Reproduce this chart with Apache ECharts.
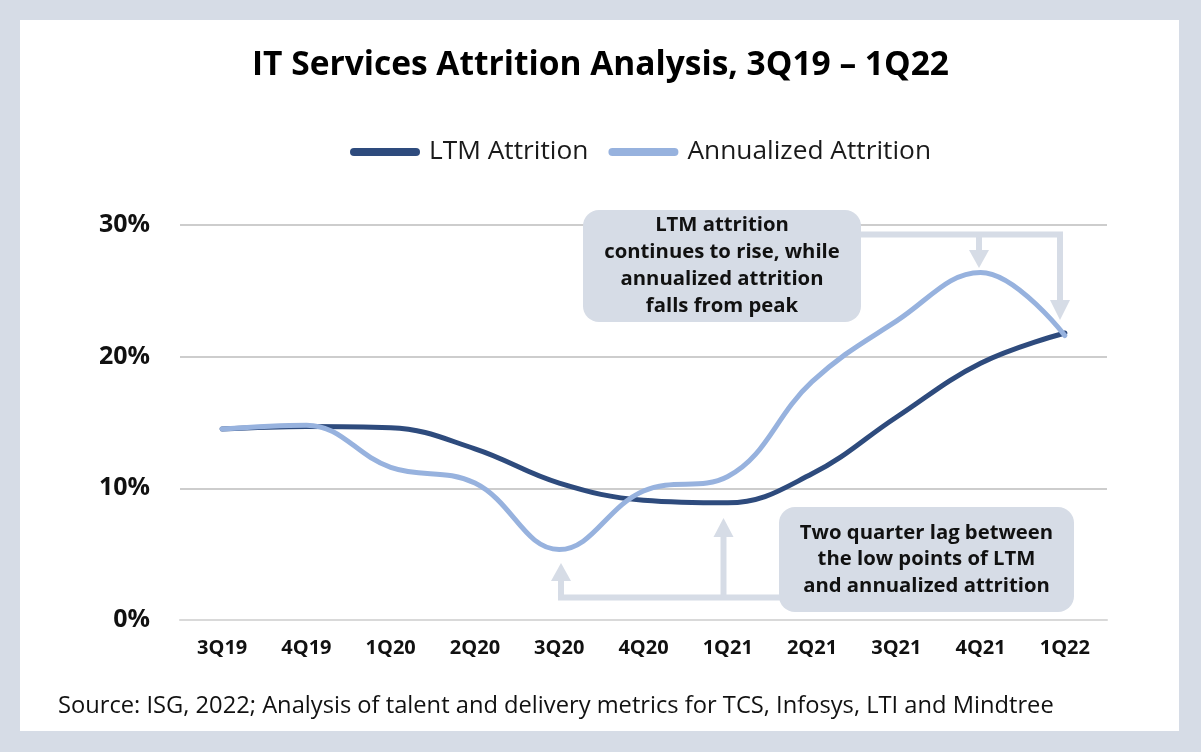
<!DOCTYPE html>
<html>
<head>
<meta charset="utf-8">
<script src="https://cdn.jsdelivr.net/npm/echarts@6/dist/echarts.min.js"></script>
<style>
html,body{margin:0;padding:0;background:#d6dce6;}
#chart{width:1201px;height:752px;}
</style>
</head>
<body>
<div id="chart"></div>
<script>
const categories = ['3Q19','4Q19','1Q20','2Q20','3Q20','4Q20','1Q21','2Q21','3Q21','4Q21','1Q22'];
const ltmAttrition = [14.5, 14.7, 14.6, 13.0, 10.4, 9.1, 8.9, 11.1, 15.4, 19.5, 21.8];
const annualizedAttrition = [14.5, 14.8, 11.6, 10.4, 5.35, 9.8, 10.9, 18.1, 22.7, 26.4, 21.6];
const yTicks = [0, 10, 20, 30];
const titleText = 'IT Services Attrition Analysis, 3Q19 \u2013 1Q22';
const sourceText = 'Source: ISG, 2022; Analysis of talent and delivery metrics for TCS, Infosys, LTI and Mindtree';
const note1 = 'LTM attrition\ncontinues to rise, while\nannualized attrition\nfalls from peak';
const note2 = 'Two quarter lag between\nthe low points of LTM\nand annualized attrition';

const FONT = '"Open Sans", "Noto Sans", sans-serif';
const BOX = '#d6dce6';
const chart = echarts.init(document.getElementById('chart'));

const capsule = 'path://M4,0 H66 A4,4 0 0 1 66,8 H4 A4,4 0 0 1 4,0 Z';

function arrowDown(x, baseY, tipY, half) {
  return { type: 'polygon', shape: { points: [[x - half, baseY], [x + half, baseY], [x, tipY]] }, style: { fill: BOX }, z: 5 };
}

const option = {
  animation: false,
  backgroundColor: BOX,
  title: {
    text: titleText,
    left: 'center',
    top: 43,
    textStyle: { fontFamily: FONT, fontSize: 33.5, fontWeight: 'bold', color: '#000' }
  },
  legend: {
    top: 134,
    left: 345,
    itemWidth: 70,
    itemHeight: 8,
    itemGap: 20,
    textStyle: { fontFamily: FONT, fontSize: 26.3, color: '#1a1a1a', padding: [0, 0, 0, 4] },
    data: [
      { name: 'LTM Attrition', icon: capsule },
      { name: 'Annualized Attrition', icon: capsule }
    ]
  },
  grid: { left: 180, right: 94, top: 225, bottom: 132 },
  xAxis: {
    type: 'category',
    data: categories,
    boundaryGap: true,
    axisLine: { lineStyle: { color: '#d9d9d9', width: 2 } },
    axisTick: { show: false },
    axisLabel: { fontFamily: FONT, fontSize: 20, fontWeight: 'bold', color: '#111', margin: 18 }
  },
  yAxis: {
    type: 'value',
    min: yTicks[0],
    max: yTicks[yTicks.length - 1],
    interval: 10,
    axisLine: { show: false },
    axisTick: { show: false },
    splitLine: { lineStyle: { color: '#bcbcbc', width: 1.5 } },
    axisLabel: { fontFamily: FONT, fontSize: 25, fontWeight: 'bold', color: '#111', margin: 30, formatter: '{value}%' }
  },
  series: [
    {
      name: 'LTM Attrition',
      type: 'line',
      data: ltmAttrition,
      smooth: 0.4,
      symbol: 'none',
      color: '#2e4b7d',
      lineStyle: { width: 5, color: '#2e4b7d', cap: 'round' },
      z: 3
    },
    {
      name: 'Annualized Attrition',
      type: 'line',
      data: annualizedAttrition,
      smooth: 0.4,
      symbol: 'none',
      color: '#97b2de',
      lineStyle: { width: 5, color: '#97b2de', cap: 'round' },
      z: 4
    }
  ],
  graphic: [
    { type: 'rect', shape: { x: 20, y: 20, width: 1159, height: 711 }, style: { fill: '#ffffff' }, z: -10, silent: true },
    { type: 'text', left: 58, top: 694, style: { text: sourceText, fontFamily: FONT, fontSize: 23.7, fill: '#111' }, z: 5 },
    // connector for note 1
    { type: 'polyline', shape: { points: [[861, 234.5], [1060, 234.5], [1060, 302]] }, style: { stroke: BOX, lineWidth: 6, fill: null }, z: 5 },
    { type: 'line', shape: { x1: 979, y1: 234.5, x2: 979, y2: 252 }, style: { stroke: BOX, lineWidth: 6 }, z: 5 },
    arrowDown(1060, 300, 320, 10),
    arrowDown(979, 250, 268, 10),
    // connector for note 2
    { type: 'polyline', shape: { points: [[561, 580], [561, 597.5], [780, 597.5]] }, style: { stroke: BOX, lineWidth: 6, fill: null }, z: 5 },
    { type: 'line', shape: { x1: 723.5, y1: 597.5, x2: 723.5, y2: 535 }, style: { stroke: BOX, lineWidth: 6 }, z: 5 },
    arrowDown(561, 581, 563, 10),
    arrowDown(723.5, 537, 518, 10),
    // note boxes
    { type: 'rect', shape: { x: 583, y: 210, width: 278, height: 112, r: 16 }, style: { fill: BOX }, z: 6 },
    { type: 'text', x: 722, y: 266, style: { text: note1, fontFamily: FONT, fontSize: 20.3, fontWeight: 'bold', fill: '#111', align: 'center', verticalAlign: 'middle', lineHeight: 27 }, z: 7 },
    { type: 'rect', shape: { x: 779, y: 507, width: 295, height: 105, r: 16 }, style: { fill: BOX }, z: 6 },
    { type: 'text', x: 926.5, y: 559.5, style: { text: note2, fontFamily: FONT, fontSize: 20.3, fontWeight: 'bold', fill: '#111', align: 'center', verticalAlign: 'middle', lineHeight: 26.5 }, z: 7 }
  ]
};
chart.setOption(option);
</script>
</body>
</html>
